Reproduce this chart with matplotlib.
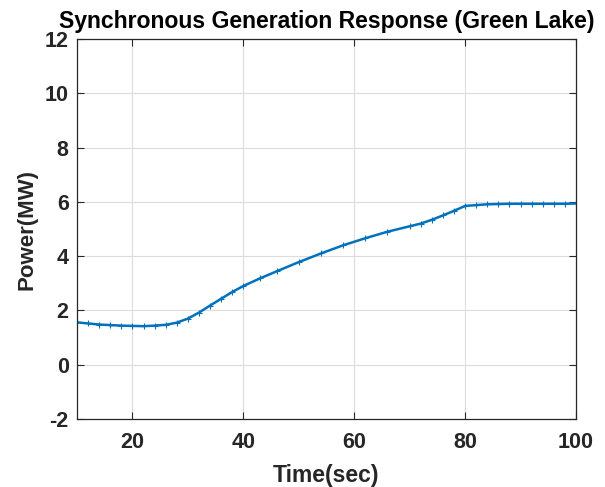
import matplotlib
matplotlib.use("Agg")
import matplotlib.pyplot as plt

# Generator output over time
time_s = [10, 12, 14, 16, 18, 20, 22, 24, 26, 28, 30, 32, 34, 36, 38, 40,
          43, 46, 50, 54, 58, 62, 66, 70, 72, 74, 76, 78, 80, 82, 84, 86,
          88, 90, 92, 94, 96, 98, 100]
power_mw = [1.56, 1.52, 1.48, 1.46, 1.44, 1.43, 1.42, 1.44, 1.47, 1.55, 1.70,
            1.92, 2.18, 2.43, 2.68, 2.90, 3.18, 3.44, 3.78, 4.10, 4.40, 4.66,
            4.90, 5.10, 5.20, 5.34, 5.50, 5.67, 5.85, 5.88, 5.91, 5.92, 5.93,
            5.93, 5.93, 5.93, 5.93, 5.93, 5.94]

x_ticks = [20, 40, 60, 80, 100]
y_ticks = [-2, 0, 2, 4, 6, 8, 10, 12]

plt.rcParams['font.family'] = ['Liberation Sans', 'DejaVu Sans']
plt.rcParams['font.weight'] = 'bold'
plt.rcParams['axes.unicode_minus'] = False

fig = plt.figure(figsize=(6.05, 4.87), dpi=100)
ax = fig.add_axes([77 / 605, 1 - 419 / 487, (576 - 77) / 605, (419 - 39) / 487])

ax.plot(time_s, power_mw, color='#0072BD', linewidth=1.8,
        marker='+', markersize=4, markeredgewidth=0.8)

ax.set_xlim(10, 100)
ax.set_ylim(-2, 12)
ax.set_xticks(x_ticks)
ax.set_yticks(y_ticks)
ax.grid(True, color='#dcdcdc', linewidth=0.8)
ax.set_axisbelow(True)
ax.tick_params(direction='in', top=True, right=True, length=5, width=0.8,
               labelsize=15.5, colors='#262626')
ax.tick_params(axis='x', pad=9.5)
ax.tick_params(axis='y', pad=6)
for lbl in ax.get_xticklabels() + ax.get_yticklabels():
    lbl.set_fontweight('bold')
for sp in ax.spines.values():
    sp.set_color('#262626')
    sp.set_linewidth(0.9)

ax.set_xlabel('Time(sec)', fontsize=16.5, fontweight='bold', color='#262626', labelpad=8)
ax.set_ylabel('Power(MW)', fontsize=16, fontweight='bold', color='#262626', labelpad=5)
ax.set_title('Synchronous Generation Response (Green Lake)', fontsize=16.6,
             fontweight='bold', color='black', pad=8)

fig.savefig('out.png', dpi=100)
